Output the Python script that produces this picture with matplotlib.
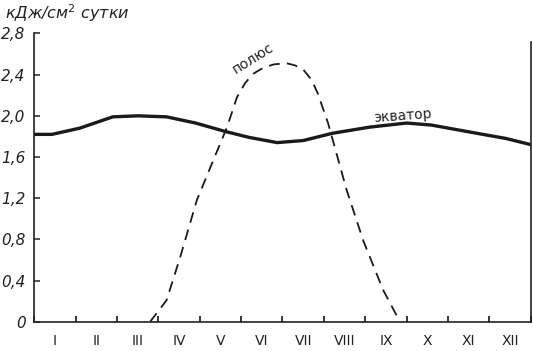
import matplotlib.pyplot as plt
from matplotlib.ticker import FixedLocator, FuncFormatter

# годовой ход суммарной радиации: экватор и полюс
months = ['I', 'II', 'III', 'IV', 'V', 'VI', 'VII', 'VIII', 'IX', 'X', 'XI', 'XII']

eq_x = [0, 0.43, 1.1, 1.9, 2.5, 3.2, 3.9, 4.6, 5.2, 5.87, 6.5, 7.2, 8.1, 9.0, 9.6, 10.7, 11.4, 12]
eq_y = [1.82, 1.82, 1.88, 1.99, 2.00, 1.99, 1.93, 1.85, 1.79, 1.74, 1.76, 1.83, 1.89, 1.93, 1.91, 1.83, 1.78, 1.72]

pol_x = [2.8, 3.2, 3.53, 3.93, 4.33, 4.66, 4.9, 5.1, 5.3, 5.55, 5.8, 6.1, 6.3, 6.5, 6.7, 6.85, 7.1, 7.55, 7.95, 8.43, 8.84]
pol_y = [0, 0.21, 0.63, 1.18, 1.57, 1.89, 2.18, 2.32, 2.41, 2.47, 2.50, 2.51, 2.49, 2.45, 2.35, 2.22, 1.93, 1.28, 0.79, 0.31, 0]

yticks = [0, 0.4, 0.8, 1.2, 1.6, 2.0, 2.4, 2.8]

fig = plt.figure(figsize=(5.33, 3.51), dpi=100)
ax = fig.add_axes([0.064, 0.083, 0.932, 0.86])

ax.plot(eq_x, eq_y, color='#1a1a1a', lw=2.4, solid_capstyle='round', solid_joinstyle='round')
ax.plot(pol_x, pol_y, color='#1a1a1a', lw=1.3, dashes=(6, 4))

ax.set_xlim(0, 12)
ax.set_ylim(0, 2.93)

ax.spines['top'].set_visible(False)
ax.spines['left'].set_bounds(0, 2.8)
ax.spines['right'].set_bounds(0, 2.72)
for s in ['left', 'right', 'bottom']:
    ax.spines[s].set_linewidth(1.2)
    ax.spines[s].set_color('#222222')

ax.set_yticks(yticks)
ax.yaxis.set_major_formatter(FuncFormatter(lambda v, p: '0' if v == 0 else f'{v:.1f}'.replace('.', ',')))
ax.tick_params(axis='y', direction='in', length=4, width=1.1, pad=6, labelsize=11, colors='#222222')
for t in ax.get_yticklabels():
    t.set_fontstyle('italic')

ax.set_xticks(range(13))
ax.set_xticklabels([])
ax.xaxis.set_minor_locator(FixedLocator([i + 0.5 for i in range(12)]))
ax.set_xticklabels(months, minor=True)
ax.tick_params(axis='x', which='major', direction='in', length=4, width=1.1)
ax.tick_params(axis='x', which='minor', length=0, pad=9, labelsize=10, colors='#222222')

ax.text(5.3, 2.56, 'полюс', rotation=32, ha='center', va='center', fontsize=10, color='#222222')
ax.text(8.9, 2.0, 'экватор', rotation=4, ha='center', va='center', fontsize=10, color='#222222')

fig.text(0.01, 0.962, 'кДж/см$^{2}$ сутки', fontsize=11.5, fontstyle='italic', va='center', color='#222222')

fig.savefig('out.png', dpi=100)
